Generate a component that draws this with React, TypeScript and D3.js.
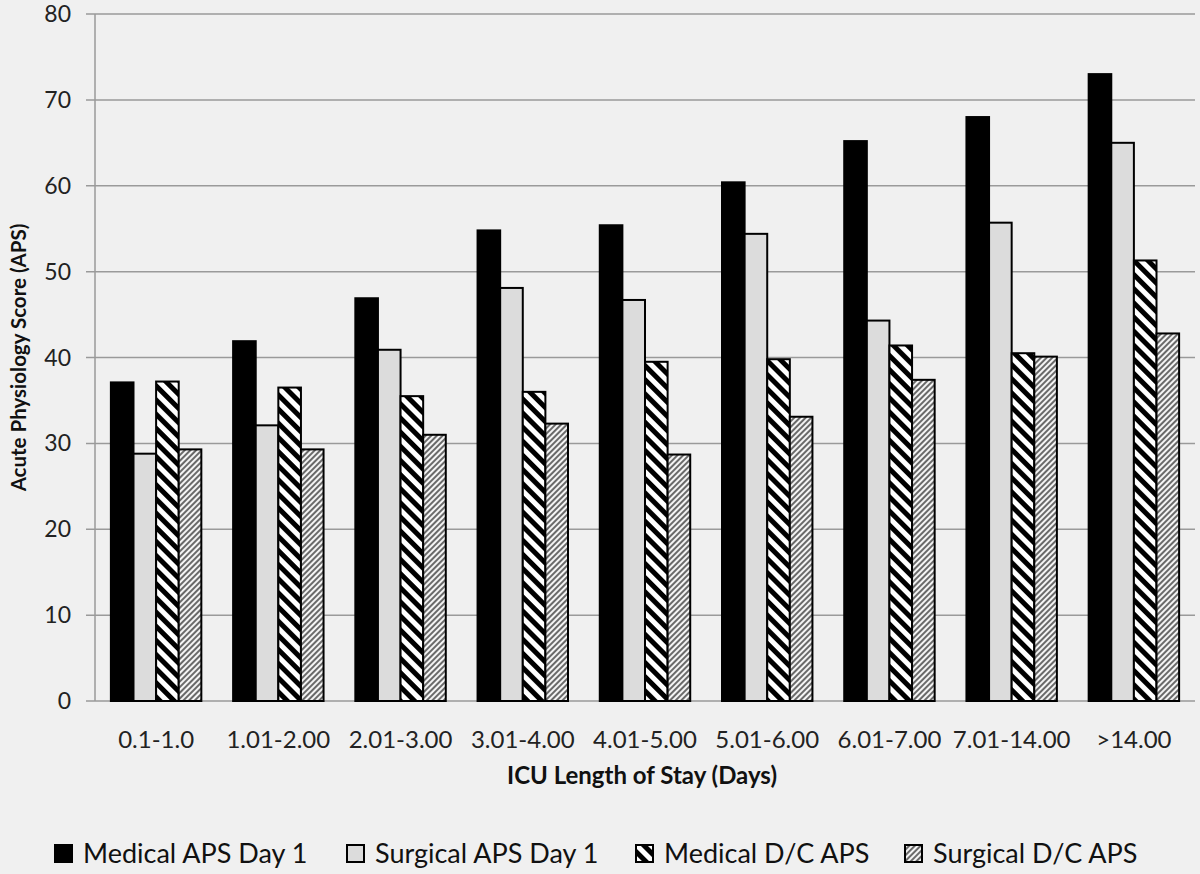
import React from 'react';
import * as d3 from 'd3';

const categories = ["0.1-1.0", "1.01-2.00", "2.01-3.00", "3.01-4.00", "4.01-5.00", "5.01-6.00", "6.01-7.00", "7.01-14.00", ">14.00"];
const seriesNames = ["Medical APS Day 1", "Surgical APS Day 1", "Medical D/C APS", "Surgical D/C APS"];
const medicalDay1 = [37.1, 41.9, 46.9, 54.8, 55.4, 60.4, 65.2, 68.0, 73.0];
const surgicalDay1 = [28.8, 32.1, 40.9, 48.1, 46.7, 54.4, 44.3, 55.7, 65.0];
const medicalDC = [37.2, 36.5, 35.5, 36.0, 39.5, 39.8, 41.4, 40.5, 51.3];
const surgicalDC = [29.3, 29.3, 31.0, 32.3, 28.7, 33.1, 37.4, 40.1, 42.8];
const yTicks = [0, 10, 20, 30, 40, 50, 60, 70, 80];

const fills = ["#000000", "#dcdcdc", "url(#hatchMed)", "url(#hatchSurg)"];
const font = "Lato, 'Open Sans', sans-serif";

const W = 1200, H = 874;
const margin = { top: 14, right: 5, bottom: 173, left: 95 };

export default function App() {
  const allSeries = [medicalDay1, surgicalDay1, medicalDC, surgicalDC];
  const x0 = d3.scaleBand().domain(categories).range([margin.left, W - margin.right]).paddingInner(0.26).paddingOuter(0.13);
  const x1 = d3.scaleBand().domain(seriesNames).range([0, x0.bandwidth()]).padding(0);
  const y = d3.scaleLinear().domain([0, 80]).range([H - margin.bottom, margin.top]);

  const legendX = [55, 347, 636, 905];

  return (
    <svg width={W} height={H} style={{ position: 'absolute', left: 0, top: 0, background: '#f0f0f0' }}>
      <defs>
        <pattern id="hatchMed" patternUnits="userSpaceOnUse" width="10" height="10" patternTransform="rotate(45)">
          <rect width="10" height="10" fill="#ffffff" />
          <rect width="10" height="5" fill="#000000" />
        </pattern>
        <pattern id="hatchSurg" patternUnits="userSpaceOnUse" width="4" height="4" patternTransform="rotate(-45)">
          <rect width="4" height="4" fill="#f4f4f4" />
          <rect width="4" height="2" fill="#6a6a6a" />
        </pattern>
      </defs>
      <rect x={0} y={0} width={W} height={H} fill="#f0f0f0" />
      {yTicks.map(t => (
        <g key={t}>
          <line x1={margin.left - 9} x2={W - margin.right} y1={y(t)} y2={y(t)} stroke="#9a9a9a" strokeWidth={1.5} />
          <text x={71} y={y(t)} dy="0.35em" textAnchor="end" fontFamily={font} fontSize={23} fill="#222">{t}</text>
        </g>
      ))}
      <line x1={margin.left} x2={margin.left} y1={y(80)} y2={y(0)} stroke="#9a9a9a" strokeWidth={1.5} />
      {categories.map((c, i) => (
        <g key={c}>
          {allSeries.map((s, j) => (
            <rect key={j} x={(x0(c) ?? 0) + (x1(seriesNames[j]) ?? 0)} y={y(s[i])} width={x1.bandwidth()} height={y(0) - y(s[i])}
              fill={fills[j]} stroke="#000" strokeWidth={2} />
          ))}
          <text x={(x0(c) ?? 0) + x0.bandwidth() / 2} y={748} textAnchor="middle" fontFamily={font} fontSize={24} fill="#222">{c}</text>
        </g>
      ))}
      <text x={642} y={784} textAnchor="middle" fontFamily={font} fontSize={24} fontWeight="bold" fill="#111">ICU Length of Stay (Days)</text>
      <text transform={`translate(26,${(y(0) + y(80)) / 2}) rotate(-90)`} textAnchor="middle" fontFamily={font} fontSize={20.5} fontWeight="bold" fill="#111">Acute Physiology Score (APS)</text>
      {seriesNames.map((n, j) => (
        <g key={n}>
          <rect x={legendX[j]} y={845} width={17} height={17} fill={fills[j]} stroke="#000" strokeWidth={2} />
          <text x={legendX[j] + 28} y={863} fontFamily={font} fontSize={27} fill="#111">{n}</text>
        </g>
      ))}
    </svg>
  );
}
